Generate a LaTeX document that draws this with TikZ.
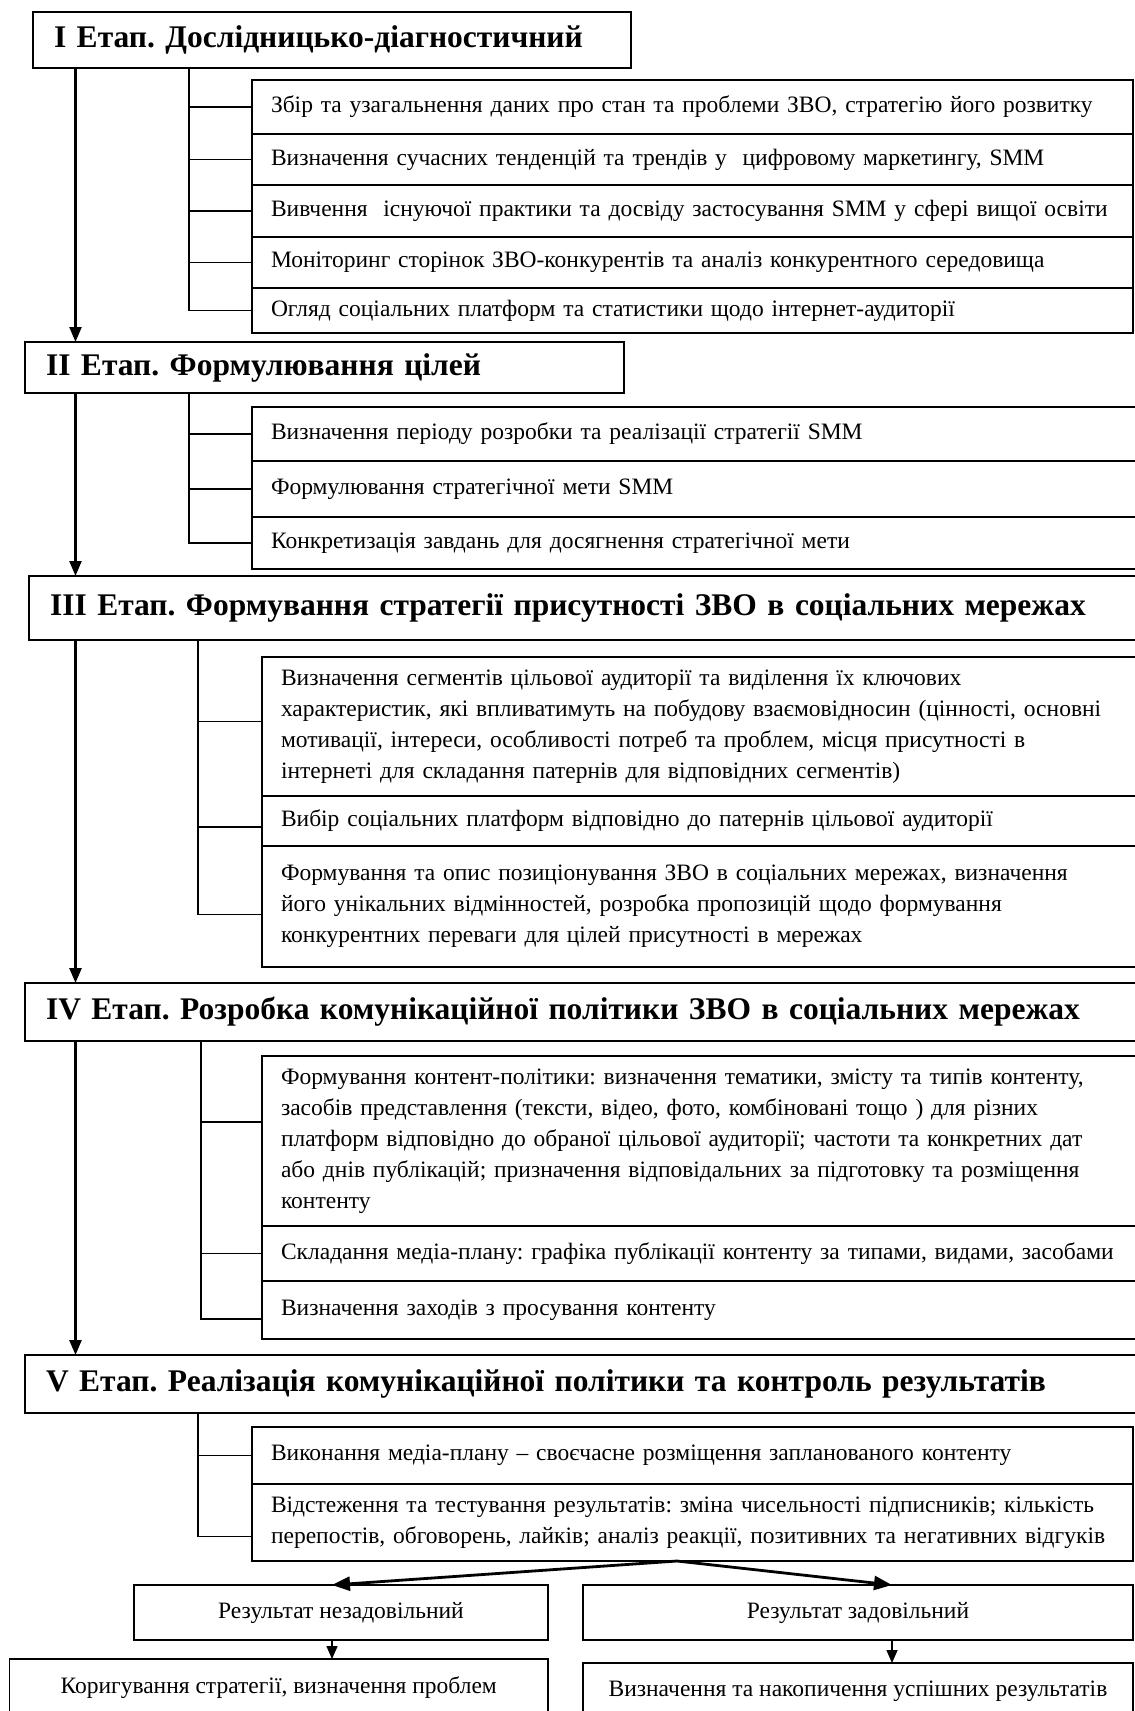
\documentclass[tikz,border=0pt]{standalone}
\usepackage{fontspec}
\setmainfont{Liberation Serif}
\usetikzlibrary{positioning,arrows.meta}
\frenchspacing
\begin{document}
	\begin{tikzpicture}
		[x=1pt,y=-1pt,
		every node/.style={draw,line width=1.3pt,outer sep=0pt},
		stage/.style={anchor=north west,inner xsep=21pt,inner ysep=0pt,
			font=\fontsize{31.5}{38}\selectfont\bfseries,text width=#1},
		row/.style={inner xsep=19pt,inner ysep=0pt,align=left,
			font=\fontsize{23.5}{31}\selectfont,text width=#1},
		result/.style={anchor=north west,align=center,
			font=\fontsize{23.5}{31}\selectfont},
		tick/.style={line width=1.2pt},
		flow/.style={line width=2.4pt,-{Triangle[length=15pt,width=12pt]}},
		fork/.style={line width=2.8pt,-{Triangle[length=18pt,width=14pt]}},
		drop/.style={line width=1.5pt,-{Triangle[length=13pt,width=11pt]}}]
		\path[use as bounding box,fill=white] (0,0) rectangle (1135,1711);
		\node[stage=556pt,minimum height=56pt] (s1) at (33,12)
			{I Етап. Дослідницько-діагностичний};
		\node[row=843pt,minimum height=54pt,anchor=north west] (r11) at (252,80)
			{Збір та узагальнення даних про стан та проблеми ЗВО, стратегію його розвитку};
		\node[row=843pt,minimum height=51pt,below=0pt of r11] (r12)
			{Визначення сучасних тенденцій та трендів у\ \ цифровому маркетингу, SMM};
		\node[row=843pt,minimum height=52pt,below=0pt of r12] (r13)
			{Вивчення\ \ існуючої практики та досвіду застосування SMM у сфері вищої освіти};
		\node[row=843pt,minimum height=51pt,below=0pt of r13] (r14)
			{Моніторинг сторінок ЗВО-конкурентів та аналіз конкурентного середовища};
		\node[row=843pt,minimum height=45pt,below=0pt of r14] (r15)
			{Огляд соціальних платформ та статистики щодо інтернет-аудиторії};
		\node[stage=557pt,minimum height=51pt] (s2) at (25,342)
			{II Етап. Формулювання цілей};
		\node[row=862pt,minimum height=54pt,anchor=north west] (r21) at (252,407)
			{Визначення періоду розробки та реалізації стратегії SMM};
		\node[row=862pt,minimum height=56pt,below=0pt of r21] (r22)
			{Формулювання стратегічної мети SMM};
		\node[row=862pt,minimum height=52pt,below=0pt of r22] (r23)
			{Конкретизація завдань для досягнення стратегічної мети};
		\node[stage=1100pt,minimum height=64pt] (s3) at (29,576)
			{III Етап. Формування стратегії присутності ЗВО в соціальних мережах};
		\node[row=870pt,minimum height=139pt,anchor=north west] (r31) at (262,657)
			{Визначення сегментів цільової аудиторії та виділення їх ключових\\
			характеристик, які впливатимуть на побудову взаємовідносин (цінності, основні\\
			мотивації, інтереси, особливості потреб та проблем, місця присутності в\\
			інтернеті для складання патернів для відповідних сегментів)};
		\node[row=870pt,minimum height=50pt,below=0pt of r31] (r32)
			{Вибір соціальних платформ відповідно до патернів цільової аудиторії};
		\node[row=870pt,minimum height=121pt,below=0pt of r32] (r33)
			{Формування та опис позиціонування ЗВО в соціальних мережах, визначення\\
			його унікальних відмінностей, розробка пропозицій щодо формування\\
			конкурентних переваги для цілей присутності в мережах};
		\node[stage=1100pt,minimum height=58pt] (s4) at (25,983)
			{IV Етап. Розробка комунікаційної політики ЗВО в соціальних мережах};
		\node[row=870pt,minimum height=170pt,anchor=north west] (r41) at (262,1056)
			{Формування контент-політики: визначення тематики, змісту та типів контенту,\\
			засобів представлення (тексти, відео, фото, комбіновані тощо ) для різних\\
			платформ відповідно до обраної цільової аудиторії; частоти та конкретних дат\\
			або днів публікацій; призначення відповідальних за підготовку та розміщення\\
			контенту};
		\node[row=870pt,minimum height=55pt,below=0pt of r41] (r42)
			{Складання медіа-плану: графіка публікації контенту за типами, видами, засобами};
		\node[row=870pt,minimum height=58pt,below=0pt of r42] (r43)
			{Визначення заходів з просування контенту};
		\node[stage=1100pt,minimum height=58pt] (s5) at (25,1355)
			{V Етап. Реалізація комунікаційної політики та контроль результатів};
		\node[row=843pt,minimum height=57pt,anchor=north west] (r51) at (252,1427)
			{Виконання медіа-плану – своєчасне розміщення запланованого контенту};
		\node[row=843pt,minimum height=77pt,below=0pt of r51] (r52)
			{Відстеження та тестування результатів: зміна чисельності підписників; кількість\\
			перепостів, обговорень, лайків; аналіз реакції, позитивних та негативних відгуків};
		\node[result,minimum width=414pt,minimum height=55pt] (q1) at (134,1585)
			{Результат незадовільний};
		\node[result,minimum width=550pt,minimum height=55pt] (q2) at (583,1585)
			{Результат задовільний};
		\node[result,minimum width=538.6pt,minimum height=58pt] (k1) at (9.4,1659)
			{Коригування стратегії, визначення проблем};
		\node[result,minimum width=550pt,minimum height=56pt] (k2) at (583,1663)
			{Визначення та накопичення успішних результатів};
		\coordinate (m) at (75.5,0);
		\coordinate (b1) at (189,68);
		\coordinate (b2) at (189,393);
		\coordinate (b3) at (198,640);
		\coordinate (b4) at (201,1041);
		\coordinate (b5) at (198,1413);
		\coordinate (d0) at (677,0);
		\coordinate (d1) at (332,0);
		\coordinate (d2) at (892,0);
		\foreach \r in {r11,r12,r13,r14,r15}
			\draw[tick] (\r.west) -| (b1);
		\foreach \r in {r21,r22,r23}
			\draw[tick] (\r.west) -| (b2);
		\draw[tick] ([yshift=5pt]r31.west) -| (b3);
		\draw[tick] ([yshift=-6pt]r32.west) -| (b3);
		\draw[tick] ([yshift=-8pt]r33.west) -| (b3);
		\draw[tick] ([yshift=19pt]r41.west) -| (b4);
		\draw[tick] (r42.west) -| (b4);
		\draw[tick] ([yshift=-9pt]r43.west) -| (b4);
		\draw[tick] (r51.west) -| (b5);
		\draw[tick] ([yshift=-14pt]r52.west) -| (b5);
		\draw[flow] (s1.south -| m) -- (s2.north -| m);
		\draw[flow] (s2.south -| m) -- (s3.north -| m);
		\draw[flow] (s3.south -| m) -- (s4.north -| m);
		\draw[flow] (s4.south -| m) -- (s5.north -| m);
		\draw[fork] (r52.south -| d0) -- (q1.north -| d1);
		\draw[fork] (r52.south -| d0) -- (q2.north -| d2);
		\draw[drop] (q1.south -| d1) -- (k1.north -| d1);
		\draw[drop] (q2.south -| d2) -- (k2.north -| d2);
	\end{tikzpicture}
\end{document}
